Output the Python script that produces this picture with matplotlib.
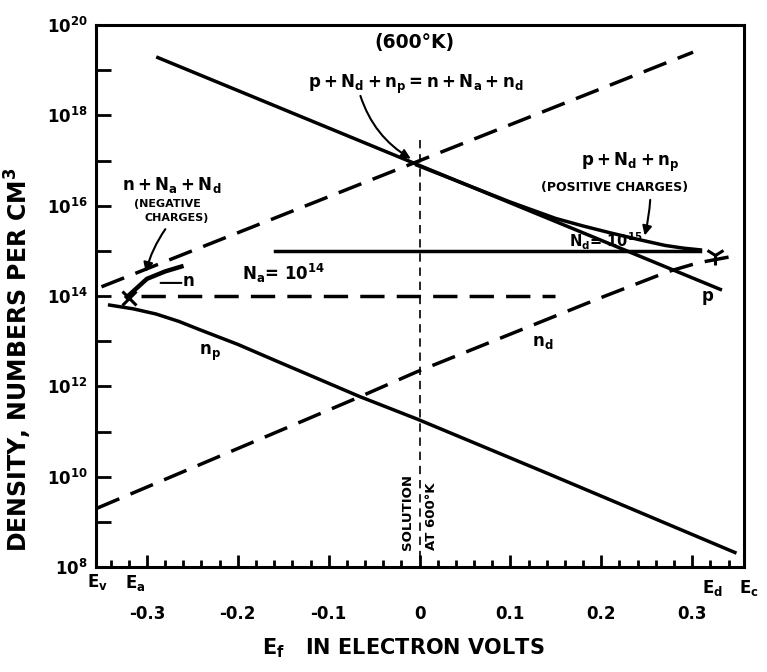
import matplotlib
matplotlib.use("Agg")
import matplotlib.pyplot as plt
from matplotlib.transforms import blended_transform_factory

plt.rcParams["font.family"] = ["DejaVu Sans"]
plt.rcParams["font.weight"] = "bold"
plt.rcParams["axes.labelweight"] = "bold"
plt.rcParams["mathtext.fontset"] = "dejavusans"
plt.rcParams["mathtext.default"] = "bf"

# holes p (solid)
p_ev = [-0.288, 0.331]
p_density = [1.9e19, 1.4e14]

# electrons n (dashed)
n_ev = [-0.350, 0.301]
n_density = [1.6e14, 2.5e19]

# neutral donors n_d (dashed)
nd_ev = [-0.355, -0.0655, -0.003, 0.199, 0.274, 0.306, 0.342]
nd_density = [2.0e9, 5.9e11, 2.1e12, 9.1e13, 3.5e14, 5.4e14, 7.4e14]

# neutral acceptors n_p (solid)
np_ev = [-0.341, -0.315, -0.290, -0.265, -0.242, -0.200, -0.161, -0.0655, -0.003, 0.140, 0.347]
np_density = [6.3e13, 5.2e13, 4.0e13, 2.75e13, 1.8e13, 8.5e12, 3.9e12, 5.9e11, 1.9e11, 1.2e10, 2.1e8]

# acceptor and donor concentrations
na_ev = [-0.306, 0.149]
na_density = [1e14, 1e14]
ndon_ev = [-0.159, 0.309]
ndon_density = [1e15, 1e15]

# positive charges p + N_d + n_p
pos_ev = [-0.003, 0.10, 0.15, 0.18, 0.21, 0.24, 0.27, 0.29, 0.309]
pos_density = [7.9e16, 1.2e16, 5.2e15, 3.55e15, 2.5e15, 1.8e15, 1.32e15, 1.15e15, 1.05e15]

# negative charges n + N_a + N_d
neg_ev = [-0.322, -0.300, -0.280, -0.262]
neg_density = [9.5e13, 2.4e14, 3.5e14, 4.5e14]

# crossing marks at E_a and E_d
ea_mark = (-0.320, 9.0e13)
ed_mark = (0.325, 8.1e14)

# solution at 600 K
solution_ev = [0.0, 0.0]
solution_density = [2.8e17, 1e8]

fig = plt.figure(figsize=(7.67, 6.72), dpi=100)
ax = fig.add_axes([0.1252, 0.1562, 0.8448, 0.8066])
ax.set_yscale("log")
ax.set_xlim(-0.356, 0.357)
ax.set_ylim(1e8, 1e20)

lw = 2.5
dash = (7, 3.5)
ax.plot(p_ev, p_density, color="black", lw=lw)
ax.plot(n_ev, n_density, color="black", lw=lw, dashes=dash)
ax.plot(nd_ev, nd_density, color="black", lw=lw, dashes=dash)
ax.plot(np_ev, np_density, color="black", lw=lw)
ax.plot(na_ev, na_density, color="black", lw=lw, dashes=dash)
ax.plot(ndon_ev, ndon_density, color="black", lw=lw)
ax.plot(pos_ev, pos_density, color="black", lw=lw)
ax.plot(neg_ev, neg_density, color="black", lw=3.2)
ax.plot(solution_ev, solution_density, color="black", lw=1.2, dashes=(5, 3.5))
ax.plot(*ea_mark, marker="x", ms=10, mew=2.2, color="black")
ax.plot(*ed_mark, marker="1", ms=14, mew=2.2, color="black")

for side in ["left", "right", "top", "bottom"]:
    ax.spines[side].set_linewidth(2.2)

# ticks
decades = [10.0 ** k for k in range(8, 21)]
ax.set_yticks(decades)
ax.set_yticklabels([f"$10^{{{k}}}$" if k % 2 == 0 else "" for k in range(8, 21)])
ax.minorticks_off()
ax.tick_params(axis="y", direction="in", length=11, width=2, labelsize=12, pad=6)
ax.set_xticks([-0.3, -0.2, -0.1, 0, 0.1, 0.2, 0.3])
ax.set_xticklabels(["-0.3", "-0.2", "-0.1", "0", "0.1", "0.2", "0.3"])
ax.set_xticks([k / 50 for k in range(-17, 18) if k % 5 != 0], minor=True)
ax.tick_params(axis="x", which="major", direction="in", length=9, width=2,
               labelsize=12, pad=27)
ax.tick_params(axis="x", which="minor", direction="in", length=5, width=2)

ax.set_xlabel("$E_f$   IN ELECTRON VOLTS", fontsize=15)
ax.xaxis.set_label_coords(0.474, -0.128)
ax.set_ylabel("DENSITY, NUMBERS PER CM$^3$", fontsize=17)
ax.yaxis.set_label_coords(-0.095, 0.382)

# band edge labels
bt = blended_transform_factory(ax.transData, ax.transAxes)
ax.text(-0.354, -0.028, "$E_v$", transform=bt, ha="center", va="center", fontsize=12)
ax.text(-0.313, -0.030, "$E_a$", transform=bt, ha="center", va="center", fontsize=12)
ax.text(0.322, -0.038, "$E_d$", transform=bt, ha="center", va="center", fontsize=12)
ax.text(0.362, -0.038, "$E_c$", transform=bt, ha="center", va="center", fontsize=12)

# annotations
ax.text(-0.006, 10 ** 19.62, "(600°K)", ha="center", va="center", fontsize=13.5)
ax.text(-0.004, 10 ** 18.69, "$p+N_d+n_p = n+N_a+n_d$", ha="center", va="center", fontsize=12)
ax.annotate("", xy=(-0.007, 10 ** 17.01), xytext=(-0.066, 10 ** 18.49),
            arrowprops=dict(arrowstyle="-|>", color="black", lw=1.5,
                            mutation_scale=14, connectionstyle="arc3,rad=0.2"))

ax.text(-0.273, 10 ** 16.46, "$n+N_a+N_d$", ha="center", va="center", fontsize=12)
ax.text(-0.277, 10 ** 16.03, "(NEGATIVE", ha="center", va="center", fontsize=8)
ax.text(-0.267, 10 ** 15.72, "CHARGES)", ha="center", va="center", fontsize=8)
ax.annotate("", xy=(-0.302, 10 ** 14.47), xytext=(-0.278, 10 ** 15.53),
            arrowprops=dict(arrowstyle="-|>", color="black", lw=1.5,
                            mutation_scale=14, connectionstyle="arc3,rad=0.1"))
ax.annotate("", xy=(-0.288, 10 ** 14.29), xytext=(-0.259, 10 ** 14.29),
            arrowprops=dict(arrowstyle="-", color="black", lw=1.5))
ax.text(-0.254, 10 ** 14.33, "$n$", ha="center", va="center", fontsize=12)

ax.text(-0.150, 10 ** 14.51, "$N_a$= 10$^{14}$", ha="center", va="center", fontsize=12)
ax.text(0.205, 10 ** 15.22, "$N_d$= 10$^{15}$", ha="center", va="center", fontsize=10.5)

ax.text(0.232, 10 ** 16.95, "$p+N_d+n_p$", ha="center", va="center", fontsize=12)
ax.text(0.215, 10 ** 16.41, "(POSITIVE CHARGES)", ha="center", va="center", fontsize=9)
ax.annotate("", xy=(0.247, 10 ** 15.28), xytext=(0.254, 10 ** 16.19),
            arrowprops=dict(arrowstyle="-|>", color="black", lw=1.5,
                            mutation_scale=14, connectionstyle="arc3,rad=-0.05"))

ax.text(0.317, 10 ** 13.96, "$p$", ha="center", va="center", fontsize=12)
ax.text(0.136, 10 ** 12.98, "$n_d$", ha="center", va="center", fontsize=12)
ax.text(-0.231, 10 ** 12.74, "$n_p$", ha="center", va="center", fontsize=12)

ax.text(0.0, 10 ** 8.38, "SOLUTION\nAT 600°K", rotation=90, ha="center", va="bottom",
        multialignment="left", fontsize=9.5, linespacing=2.1)

fig.savefig("out.png", dpi=100)
